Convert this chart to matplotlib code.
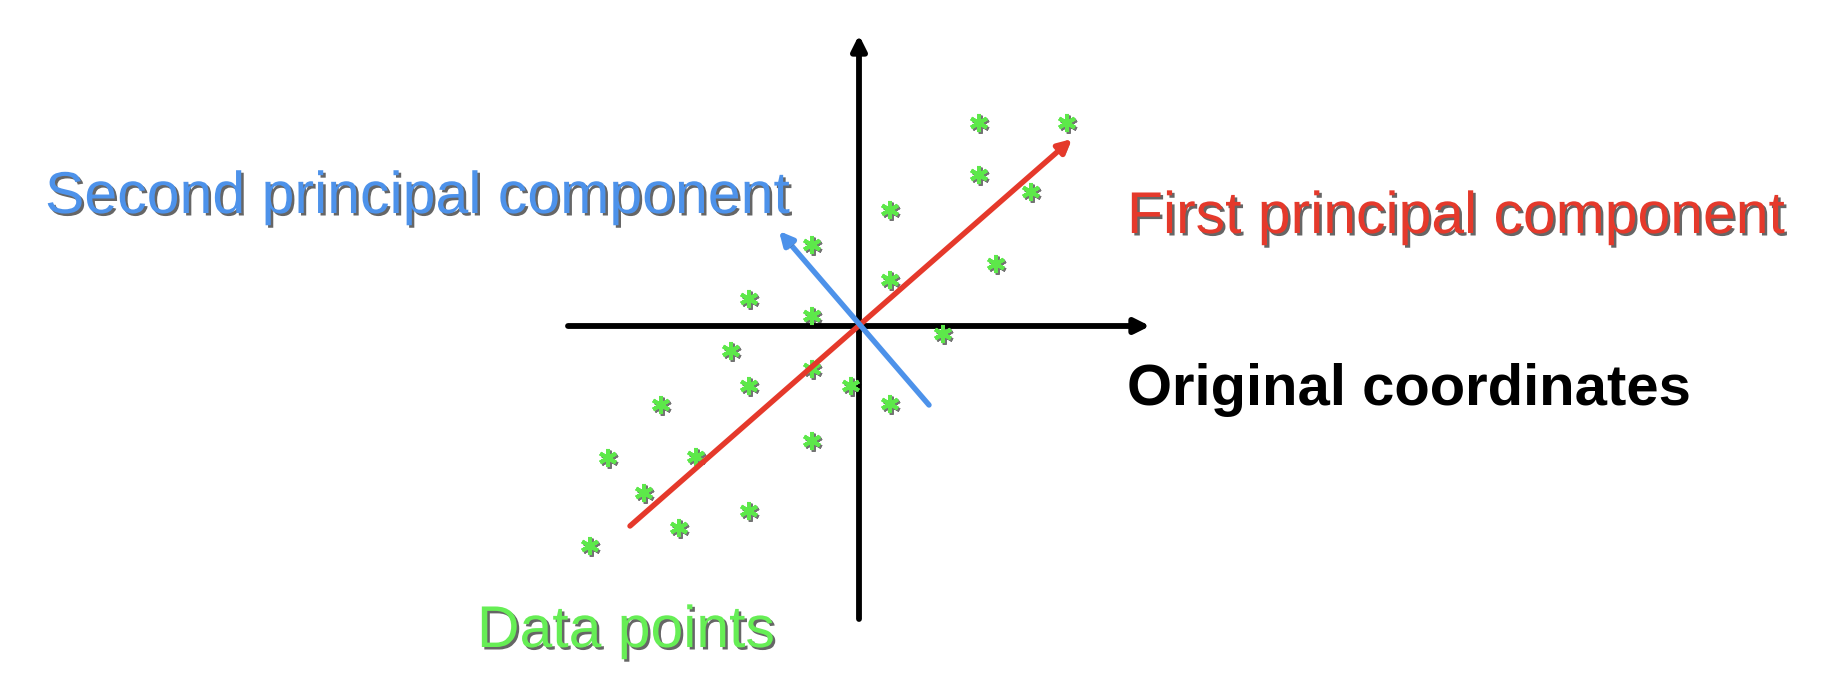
import matplotlib
matplotlib.use('Agg')
import matplotlib.pyplot as plt
import matplotlib.patheffects as pe

# data points (units: origin at the axes crossing)
pts_x = [1.20, 2.08, 1.20, 1.72, 0.31, -0.47, 1.37, 0.31, -1.10, -0.47, 0.84, -1.28,
         -0.47, -1.10, -0.08, 0.31, -1.98, -0.47, -2.51, -1.63, -2.15, -1.10, -1.80, -2.69]
pts_y = [2.03, 2.03, 1.51, 1.34, 1.16, 0.81, 0.62, 0.46, 0.27, 0.10, -0.08, -0.25,
         -0.43, -0.60, -0.60, -0.78, -0.79, -1.15, -1.32, -1.31, -1.67, -1.85, -2.02, -2.20]

# principal component arrows: (start, end)
pc1_start = (-2.29, -2.00)
pc1_end = (2.13, 1.87)
pc2_start = (0.70, -0.79)
pc2_end = (-0.80, 0.95)

# original coordinate axes extents
axis_x = (-2.91, 2.91)
axis_y = (-2.93, 2.91)

labels = ['Second principal component', 'First principal component',
          'Original coordinates', 'Data points']

RED = '#e5392b'
BLUE = '#4d92ea'
GREEN = '#66ee55'
STAR = '#5de84a'

fig = plt.figure(figsize=(18.28, 6.86), dpi=100)
ax = fig.add_axes([0, 0, 1, 1])
ax.set_xlim(-8.59, 18.28 - 8.59)
ax.set_ylim(3.26 - 6.86, 3.26)
ax.axis('off')

shadow = [pe.SimplePatchShadow(offset=(1.8, -1.8), shadow_rgbFace='k', alpha=0.6), pe.Normal()]
line_shadow = [pe.SimplePatchShadow(offset=(1.5, -1.5), shadow_rgbFace='#444444', alpha=0.55), pe.Normal()]


def arrow(p0, p1, color, lw, ms):
    a = ax.annotate('', xy=p1, xytext=p0,
                    arrowprops=dict(arrowstyle='-|>', lw=lw, color=color,
                                    mutation_scale=ms, shrinkA=0, shrinkB=0))
    a.arrow_patch.set_path_effects(line_shadow)
    return a


# original axes
arrow((axis_x[0], 0), (axis_x[1], 0), 'black', 4.2, 22)
arrow((0, axis_y[0]), (0, axis_y[1]), 'black', 4.2, 22)

# data points
ax.plot(pts_x, pts_y, ls='none', marker=(6, 2, 0), ms=13, mew=2.8, color=STAR,
        path_effects=[pe.SimpleLineShadow(offset=(1.2, -1.2), shadow_color='k', alpha=0.55), pe.Normal()],
        zorder=3)

# principal components
arrow(pc1_start, pc1_end, RED, 3.9, 20)
arrow(pc2_start, pc2_end, BLUE, 3.9, 20)

# labels
ax.text(-8.14, 1.13, labels[0], color=BLUE, fontsize=42.5, family='Liberation Sans',
        va='baseline', ha='left', path_effects=shadow)
ax.text(2.68, 0.93, labels[1], color=RED, fontsize=42.4, family='Liberation Sans',
        va='baseline', ha='left', path_effects=shadow)
ax.text(2.68, -0.79, labels[2], color='black', fontsize=41.8, family='Liberation Sans',
        fontweight='bold', va='baseline', ha='left')
ax.text(-3.82, -3.21, labels[3], color=GREEN, fontsize=42.4, family='Liberation Sans',
        va='baseline', ha='left', path_effects=shadow)

fig.savefig('out.png', dpi=100, facecolor='white')
